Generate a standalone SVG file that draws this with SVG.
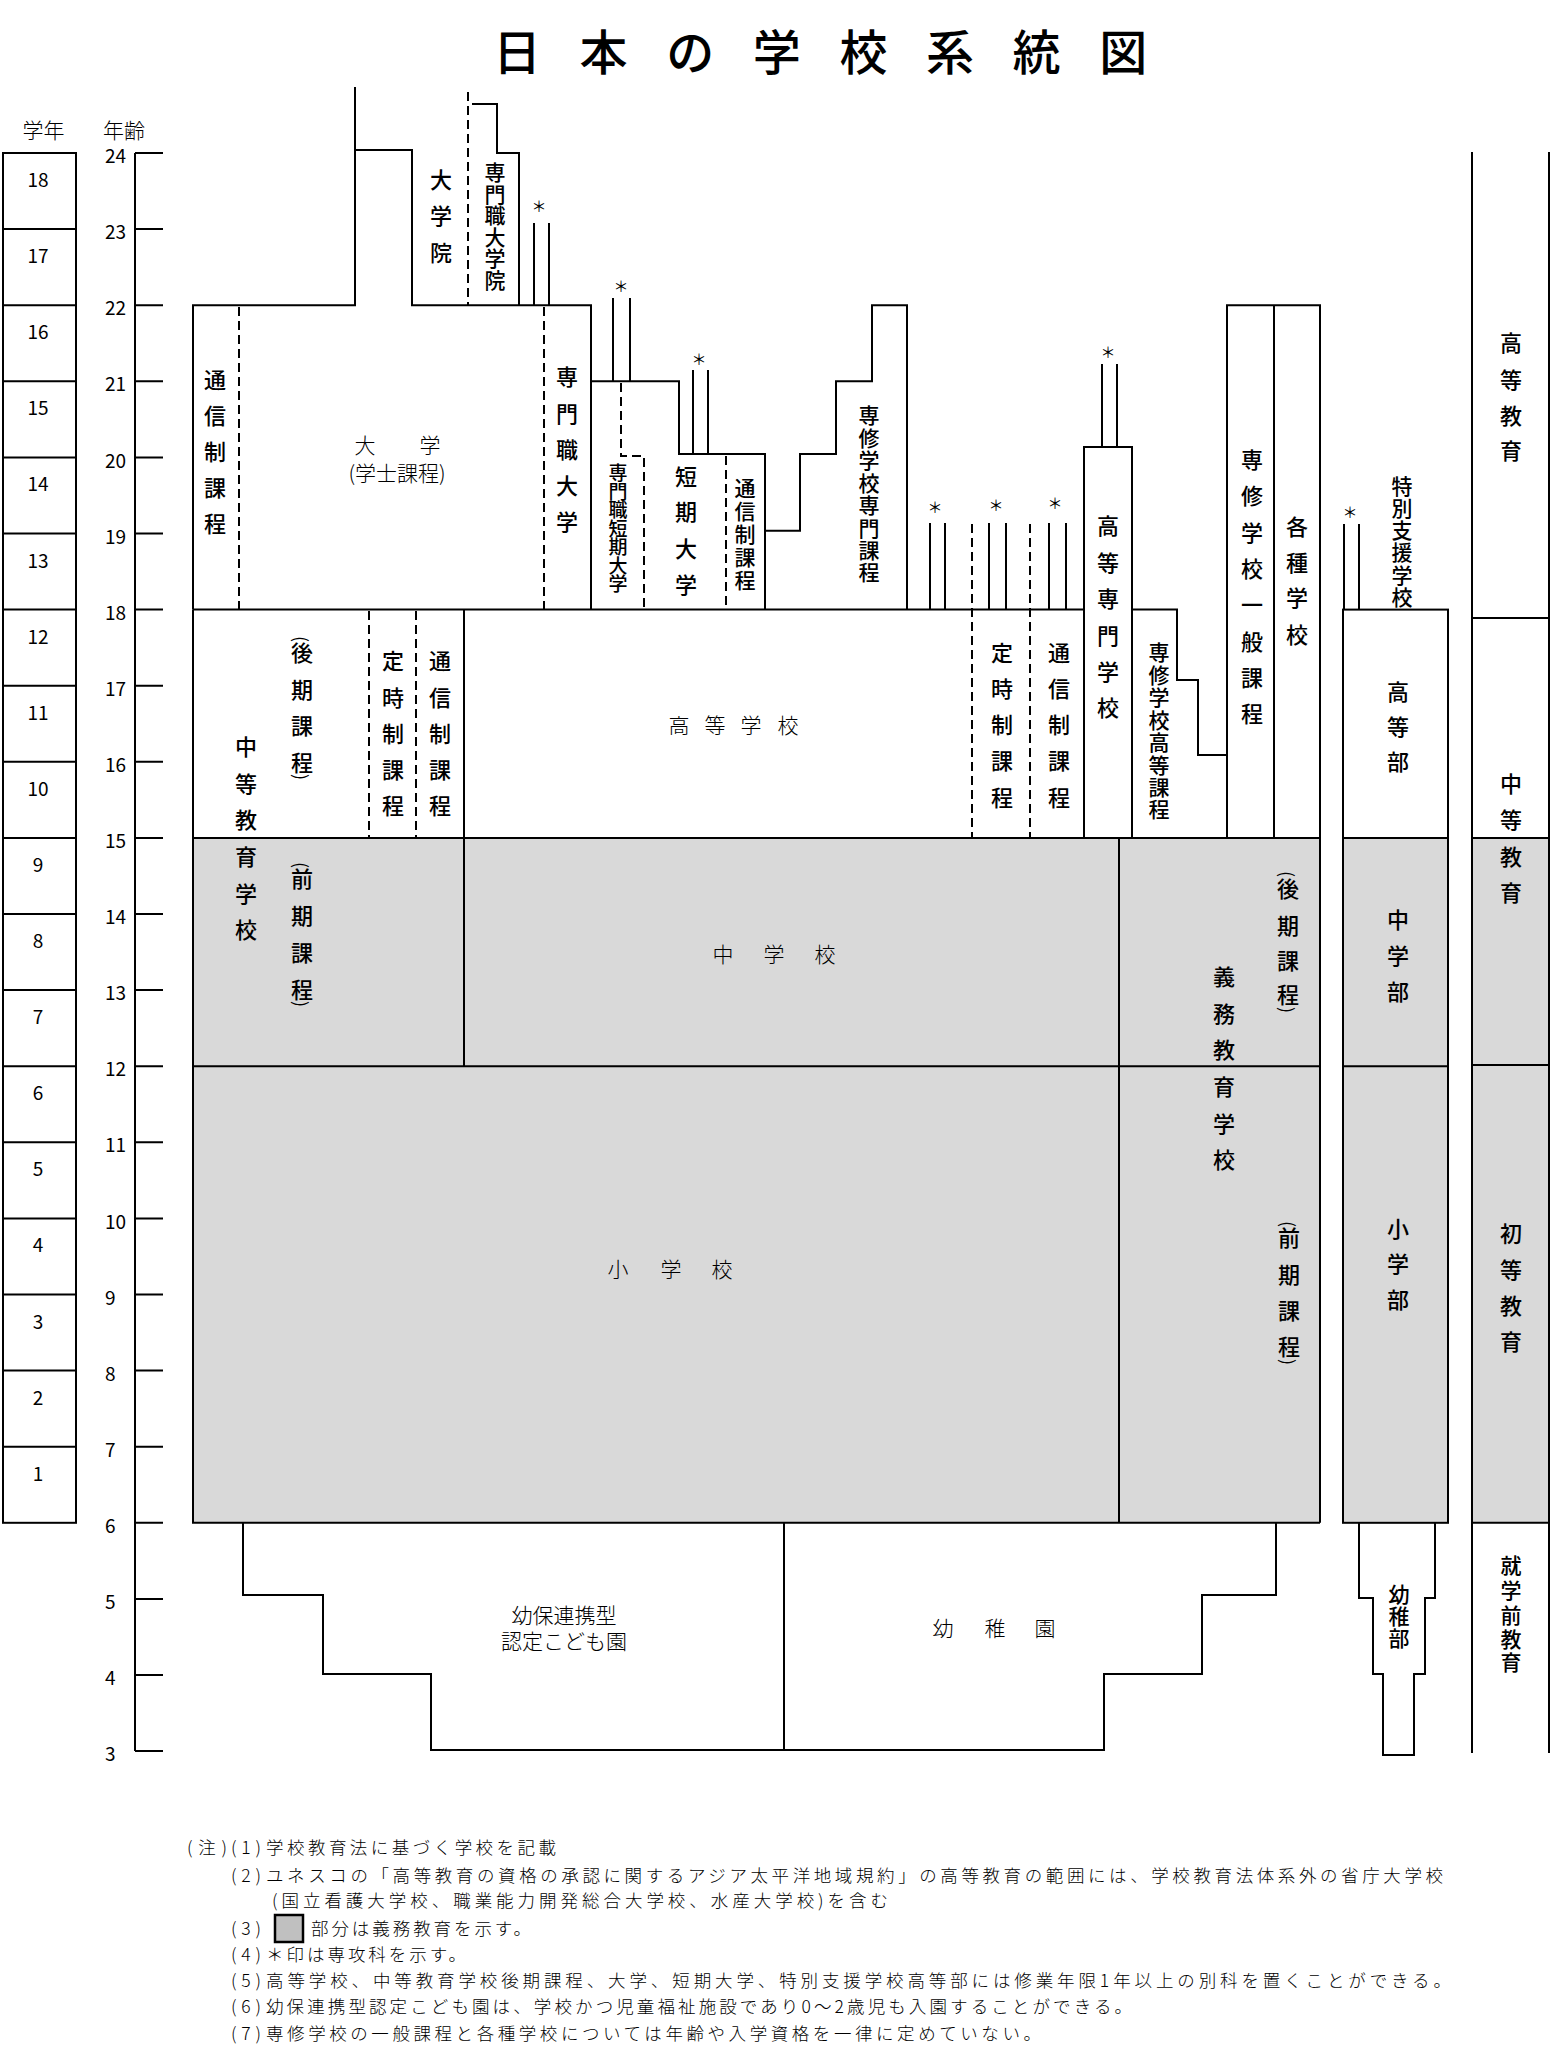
<svg xmlns="http://www.w3.org/2000/svg" width="1552" height="2059" viewBox="0 0 1552 2059">
<style>
.ln{fill:none;stroke:#000;stroke-width:2}
.ds{fill:none;stroke:#000;stroke-width:2;stroke-dasharray:9 5}
.gr{fill:#d9d9d9;stroke:none}
text{fill:#000;font-family:"Noto Sans CJK JP","Noto Sans CJK SC",sans-serif}
.v{font-size:22px;font-weight:500;text-anchor:middle}
.vt{font-size:21px;font-weight:500;text-anchor:middle}
.vs{font-size:19px;font-weight:500;text-anchor:middle}
.h{font-size:21px;font-weight:300;text-anchor:middle}
.p{font-size:18px;text-anchor:middle;dominant-baseline:central}
.num{font-family:"Liberation Sans",Arial,sans-serif;font-size:19px}
.gn{text-anchor:middle}
.ast{font-size:15px;text-anchor:middle}
.note{font-size:17.5px;font-weight:300}
.title{font-size:48px;font-weight:500;text-anchor:middle}
</style>

<g id="title">
<text class="title" x="517 603.6 690.2 776.8 863.4 950 1036.6 1123.2" y="70">日本の学校系統図</text>
</g>

<g id="grade-column">
<text class="h" x="43.5" y="138">学年</text>
<rect class="ln" x="3" y="153" width="73" height="1369.8"/>
<path class="ln" d="M3,229.1H76M3,305.2H76M3,381.3H76M3,457.4H76M3,533.5H76M3,609.6H76M3,685.7H76M3,761.8H76M3,837.9H76M3,914H76M3,990.1H76M3,1066.2H76M3,1142.3H76M3,1218.4H76M3,1294.5H76M3,1370.6H76M3,1446.7H76"/>
<g class="num gn">
<text x="38" y="187">18</text><text x="38" y="263">17</text><text x="38" y="339">16</text><text x="38" y="415">15</text>
<text x="38" y="491">14</text><text x="38" y="567.5">13</text><text x="38" y="643.5">12</text><text x="38" y="719.5">11</text>
<text x="38" y="796">10</text><text x="38" y="872">9</text><text x="38" y="948">8</text><text x="38" y="1024">7</text>
<text x="38" y="1100">6</text><text x="38" y="1176">5</text><text x="38" y="1252">4</text><text x="38" y="1328.5">3</text>
<text x="38" y="1404.5">2</text><text x="38" y="1480.5">1</text>
</g>
</g>

<g id="age-axis">
<text class="h" x="124" y="138">年齢</text>
<path class="ln" d="M135,153V1751.1M135,153H163M135,229.1H163M135,305.2H163M135,381.3H163M135,457.4H163M135,533.5H163M135,609.6H163M135,685.7H163M135,761.8H163M135,837.9H163M135,914H163M135,990.1H163M135,1066.2H163M135,1142.3H163M135,1218.4H163M135,1294.5H163M135,1370.6H163M135,1446.7H163M135,1522.8H163M135,1598.9H163M135,1675H163M135,1751.1H163"/>
<g class="num">
<text x="105" y="163">24</text><text x="105" y="239">23</text><text x="105" y="315">22</text><text x="105" y="391">21</text>
<text x="105" y="467.5">20</text><text x="105" y="543.5">19</text><text x="105" y="619.5">18</text><text x="105" y="695.5">17</text>
<text x="105" y="772">16</text><text x="105" y="848">15</text><text x="105" y="924">14</text><text x="105" y="1000">13</text>
<text x="105" y="1076">12</text><text x="105" y="1152">11</text><text x="105" y="1228.5">10</text><text x="105" y="1304.5">9</text>
<text x="105" y="1380.5">8</text><text x="105" y="1456.5">7</text><text x="105" y="1533">6</text><text x="105" y="1609">5</text>
<text x="105" y="1685">4</text><text x="105" y="1761">3</text>
</g>
</g>

<g id="compulsory-shading">
<rect class="gr" x="193" y="837.9" width="1127" height="684.9"/>
<rect class="gr" x="1343" y="837.9" width="105" height="684.9"/>
<rect class="gr" x="1472" y="837.9" width="77" height="684.9"/>
</g>

<g id="connectors">
<path class="ln" d="M193,609.6V305.2H355V87"/>
<path class="ln" d="M355,150H412V305.2H591V609.6"/>
<path class="ln" d="M472,104H497V153H519V305.2"/>
<path class="ln" d="M534,223V305.2M549,223V305.2"/>
<path class="ds" d="M468,92V305M239,307V609M544,307V609"/>
<path class="ln" d="M591,381.3H679V454H765V609.6"/>
<path class="ln" d="M613,298V381.3M630,298V381.3M693,370V454M708,370V454"/>
<path class="ds" d="M621,383V456H644V609M726,456V609"/>
<path class="ln" d="M765,530.7H800V454H836V381.3H872V305.2H907V609.6"/>
<path class="ln" d="M930,523V609.6M945,523V609.6M989,523V609.6M1006,523V609.6M1049,523V609.6M1066,523V609.6"/>
<path class="ds" d="M972,524V837M1030,524V837"/>
<path class="ln" d="M1084,837.9V447H1132V837.9"/>
<path class="ln" d="M1102,364V447M1117,364V447"/>
<path class="ln" d="M1132,609.6H1177V680H1198V755H1227"/>
<path class="ln" d="M1227,837.9V305.2H1320V1522.8M1274,305.2V837.9"/>
<path class="ln" d="M193,609.6H1084"/>
<path class="ln" d="M464,609.6V1066.2"/>
<path class="ds" d="M369,611V837M416,611V837"/>
<path class="ln" d="M193,837.9H1320M193,1066.2H1320M1119,837.9V1522.8"/>
<path class="ln" d="M193,609.6V1522.8H1320"/>
<path class="ln" d="M243,1522.8V1595H323V1674H431V1750H1104V1674H1202V1595H1276V1522.8"/>
<path class="ln" d="M784,1522.8V1750"/>
<path class="ln" d="M1344,524V609.6M1359,524V609.6"/>
<rect class="ln" x="1343" y="609.6" width="105" height="913.2"/>
<path class="ln" d="M1343,837.9H1448M1343,1066.2H1448"/>
<path class="ln" d="M1359,1522.8V1598H1373V1674H1383V1755H1414V1674H1425V1598H1435V1522.8"/>
<path class="ln" d="M1472,152V1753M1549,152V1753M1472,618H1549M1472,837.9H1549M1472,1065H1549M1472,1522.8H1549"/>
</g>

<g id="asterisks">
<text class="ast" x="539" y="212">＊</text>
<text class="ast" x="621" y="292">＊</text>
<text class="ast" x="699" y="365">＊</text>
<text class="ast" x="935" y="513">＊</text>
<text class="ast" x="996" y="511">＊</text>
<text class="ast" x="1055" y="509">＊</text>
<text class="ast" x="1108" y="358">＊</text>
<text class="ast" x="1350" y="518">＊</text>
</g>

<g id="daigaku">
<text class="v" x="215 215 215 215 215" y="388 424 460 496 532">通信制課程</text>
<text class="h" x="365 430" y="453">大学</text>
<text class="h" x="397" y="481">(学士課程)</text>
<text class="v" x="567 567 567 567 567" y="385 422 458 494 530">専門職大学</text>
</g>
<g id="daigakuin">
<text class="v" x="441 441 441" y="188 224 261">大学院</text>
</g>
<g id="senmonshoku-daigakuin">
<text class="vt" x="495 495 495 495 495 495" y="180 201.5 223 244.5 266 288">専門職大学院</text>
</g>
<g id="senmonshoku-tanki-daigaku">
<text class="vs" x="618 618 618 618 618 618 618" y="480 498.5 517 535.5 554 572.5 591">専門職短期大学</text>
</g>
<g id="tanki-daigaku">
<text class="v" x="686 686 686 686" y="485 520 557 593">短期大学</text>
<text class="vt" x="745 745 745 745 745" y="496 519 542 565 588">通信制課程</text>
</g>
<g id="senshu-senmon">
<text class="vt" x="869 869 869 869 869 869 869 869" y="423 445.5 468 490.5 513 535.5 558 580">専修学校専門課程</text>
</g>
<g id="koto-senmon">
<text class="v" x="1108 1108 1108 1108 1108 1108" y="534 570.5 607 643.5 680 716">高等専門学校</text>
</g>
<g id="senshu-ippan">
<text class="v" x="1252 1252 1252 1252 1252 1252 1252 1252" y="468 504 541 577 613 650 686 722">専修学校一般課程</text>
</g>
<g id="kakushu">
<text class="v" x="1297 1297 1297 1297" y="535 570.5 606 643">各種学校</text>
</g>
<g id="tokubetsu-shien">
<text class="vt" x="1402 1402 1402 1402 1402 1402" y="494 516 538 560 582.5 604.5">特別支援学校</text>
<text class="v" x="1398 1398 1398" y="700 735 770">高等部</text>
<text class="v" x="1398 1398 1398" y="928 964 1000">中学部</text>
<text class="v" x="1398 1398 1398" y="1237 1272 1308">小学部</text>
<text class="vt" x="1399 1399 1399" y="1602 1624 1646">幼稚部</text>
</g>
<g id="chuto-kyoiku-gakko">
<text class="v" x="246 246 246 246 246 246" y="755 792 828 865 902 938">中等教育学校</text>
<text class="p" transform="translate(302,639) rotate(90)">(</text>
<text class="v" x="302 302 302 302" y="661 698 734 771">後期課程</text>
<text class="p" transform="translate(302,777) rotate(90)">)</text>
<text class="p" transform="translate(302,865) rotate(90)">(</text>
<text class="v" x="302 302 302 302" y="887 924 961 998">前期課程</text>
<text class="p" transform="translate(302,1004) rotate(90)">)</text>
<text class="v" x="393 393 393 393 393" y="669 706 742 778 814">定時制課程</text>
<text class="v" x="440 440 440 440 440" y="669 706 742 778 814">通信制課程</text>
</g>
<g id="koto-gakko">
<text class="h" x="679 715 751 788" y="733">高等学校</text>
<text class="v" x="1002 1002 1002 1002 1002" y="661 697 733 769 806">定時制課程</text>
<text class="v" x="1059 1059 1059 1059 1059" y="661 697 733 769 806">通信制課程</text>
</g>
<g id="senshu-koto">
<text class="vt" x="1159 1159 1159 1159 1159 1159 1159 1159" y="660 682.5 705 727.5 750 772.5 795 817">専修学校高等課程</text>
</g>
<g id="chugakko">
<text class="h" x="723 774 825" y="962">中学校</text>
</g>
<g id="shogakko">
<text class="h" x="618 671 722" y="1277">小学校</text>
</g>
<g id="gimu-kyoiku-gakko">
<text class="v" x="1224 1224 1224 1224 1224 1224" y="985 1022 1058 1095 1132 1168">義務教育学校</text>
<text class="p" transform="translate(1288,874) rotate(90)">(</text>
<text class="v" x="1288 1288 1288 1288" y="897 934 969 1003">後期課程</text>
<text class="p" transform="translate(1288,1010) rotate(90)">)</text>
<text class="p" transform="translate(1289,1224) rotate(90)">(</text>
<text class="v" x="1289 1289 1289 1289" y="1246 1283 1319 1355">前期課程</text>
<text class="p" transform="translate(1289,1362) rotate(90)">)</text>
</g>
<g id="kodomoen">
<text class="h" x="564" y="1623">幼保連携型</text>
<text class="h" x="564" y="1649">認定こども園</text>
</g>
<g id="yochien">
<text class="h" x="943 995 1045" y="1636">幼稚園</text>
</g>
<g id="stages">
<text class="v" x="1511 1511 1511 1511" y="351 387.5 424 459">高等教育</text>
<text class="v" x="1511 1511 1511 1511" y="792 828 865 901">中等教育</text>
<text class="v" x="1511 1511 1511 1511" y="1242 1278 1314 1350">初等教育</text>
<text class="vt" x="1511 1511 1511 1511 1511" y="1573 1598 1623 1647 1670">就学前教育</text>
</g>

<g id="notes">
<text class="note" x="187" y="1854" textLength="40">(注)</text>
<text class="note" x="231" y="1854" textLength="30">(1)</text>
<text class="note" x="266" y="1854" textLength="290">学校教育法に基づく学校を記載</text>
<text class="note" x="231" y="1882" textLength="30">(2)</text>
<text class="note" x="266" y="1882" textLength="1177">ユネスコの「高等教育の資格の承認に関するアジア太平洋地域規約」の高等教育の範囲には、学校教育法体系外の省庁大学校</text>
<text class="note" x="272" y="1907" textLength="616">(国立看護大学校、職業能力開発総合大学校、水産大学校)を含む</text>
<text class="note" x="231" y="1935" textLength="30">(3)</text>
<rect x="275" y="1915" width="28" height="27" fill="#c0c0c0" stroke="#000" stroke-width="2.5"/>
<text class="note" x="311" y="1935" textLength="220">部分は義務教育を示す。</text>
<text class="note" x="231" y="1961" textLength="30">(4)</text>
<text class="note" x="266" y="1961" textLength="200">＊印は専攻科を示す。</text>
<text class="note" x="231" y="1987" textLength="30">(5)</text>
<text class="note" x="266" y="1987" textLength="1185">高等学校、中等教育学校後期課程、大学、短期大学、特別支援学校高等部には修業年限1年以上の別科を置くことができる。</text>
<text class="note" x="231" y="2013" textLength="30">(6)</text>
<text class="note" x="266" y="2013" textLength="866">幼保連携型認定こども園は、学校かつ児童福祉施設であり0～2歳児も入園することができる。</text>
<text class="note" x="231" y="2040" textLength="30">(7)</text>
<text class="note" x="266" y="2040" textLength="775">専修学校の一般課程と各種学校については年齢や入学資格を一律に定めていない。</text>
</g>
</svg>
